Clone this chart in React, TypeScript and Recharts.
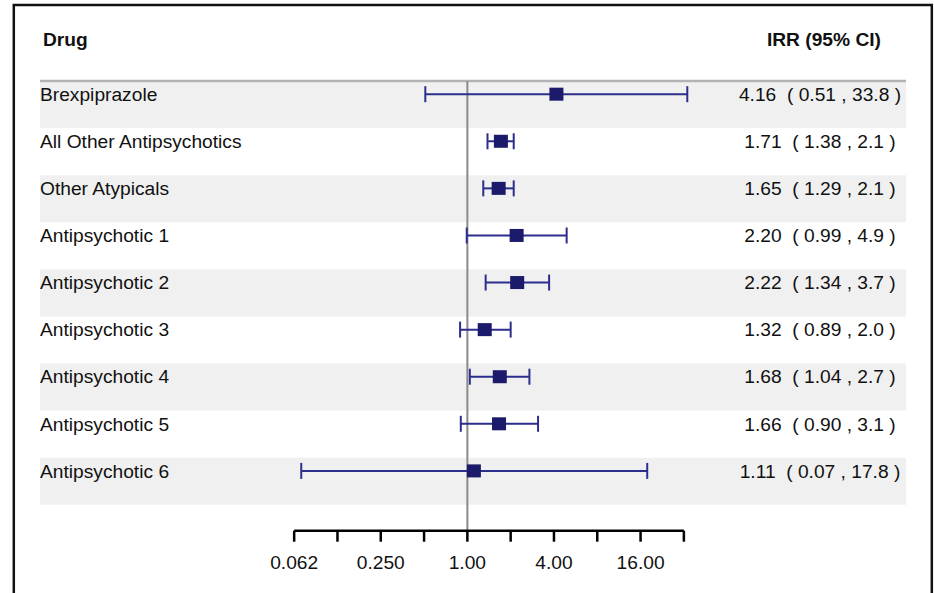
import React from 'react';
import {
  ComposedChart,
  Scatter,
  XAxis,
  YAxis,
  ErrorBar,
  ReferenceArea,
  ReferenceLine,
} from 'recharts';

// ---------- data ----------
const drugs = [
  'Brexpiprazole',
  'All Other Antipsychotics',
  'Other Atypicals',
  'Antipsychotic 1',
  'Antipsychotic 2',
  'Antipsychotic 3',
  'Antipsychotic 4',
  'Antipsychotic 5',
  'Antipsychotic 6',
];
const irr = [4.16, 1.71, 1.65, 2.2, 2.22, 1.32, 1.68, 1.66, 1.11];
const ciLower = [0.51, 1.38, 1.29, 0.99, 1.34, 0.89, 1.04, 0.9, 0.07];
const ciUpper = [33.8, 2.1, 2.1, 4.9, 3.7, 2.0, 2.7, 3.1, 17.8];
const xTicks = [0.0625, 0.125, 0.25, 0.5, 1, 2, 4, 8, 16, 32];
const xTickLabels = ['0.062', '', '0.250', '', '1.00', '', '4.00', '', '16.00', ''];
const headerLeft = 'Drug';
const headerRight = 'IRR (95% CI)';

// ---------- layout constants ----------
const W = 934;
const H = 593;
const FONT = '"Liberation Sans", Arial, sans-serif';
const FS = 19.2;
const XMIN = Math.pow(2, -9.87);
const XMAX = Math.pow(2, 10.13);
const YMAX = 9.55;
const MARK_OFFSET = 0.28;
const LINE_COLOR = '#2c2e8c';
const BOX_COLOR = '#1b1a6b';
const CI_CENTER = 820;

const ciText = (i: number) =>
  `${irr[i].toFixed(2)}  ( ${ciLower[i].toFixed(2)} , ${ciUpper[i].toFixed(1)} )`;

const rows = drugs.map((d, i) => ({
  name: d,
  x: irr[i],
  y: i + MARK_OFFSET,
  err: [irr[i] - ciLower[i], ciUpper[i] - irr[i]],
}));
const rowTicks = drugs.map((_, i) => i + MARK_OFFSET);

const LeftTick = (props: any) => {
  const { x, y, index } = props;
  return (
    <text x={x} y={y} dy="0.35em" textAnchor="start" fontFamily={FONT} fontSize={FS} fill="#111">
      {drugs[index]}
    </text>
  );
};

const RightTick = (props: any) => {
  const { y, index } = props;
  return (
    <text
      x={CI_CENTER}
      y={y}
      dy="0.35em"
      textAnchor="middle"
      fontFamily={FONT}
      fontSize={FS}
      fill="#111"
      style={{ whiteSpace: 'pre' }}
    >
      {ciText(index)}
    </text>
  );
};

const XTick = (props: any) => {
  const { x, y, index } = props;
  const label = xTickLabels[index];
  return (
    <g>
      <line x1={x} x2={x} y1={y} y2={y + 11} stroke="#000" strokeWidth={2.5} />
      {label ? (
        <text x={x} y={y + 38.5} textAnchor="middle" fontFamily={FONT} fontSize={FS} fill="#111">
          {label}
        </text>
      ) : null}
    </g>
  );
};

const Box = (props: any) => {
  const { cx, cy } = props;
  return <rect x={cx - 7} y={cy - 6.5} width={14} height={13} fill={BOX_COLOR} />;
};

export default function App() {
  return (
    <div style={{ position: 'absolute', left: 0, top: 0, width: W, height: H, overflow: 'hidden', background: '#fff' }}>
      <svg width={W} height={H} style={{ position: 'absolute', left: 0, top: 0 }}>
        <rect x={13.8} y={5} width={918} height={640} fill="none" stroke="#111" strokeWidth={2.5} />
        <text x={43} y={45.5} fontFamily={FONT} fontSize={FS} fontWeight="bold" fill="#111">
          {headerLeft}
        </text>
        <text x={881} y={46} textAnchor="end" fontFamily={FONT} fontSize={FS} fontWeight="bold" fill="#111">
          {headerRight}
        </text>
      </svg>
      <div style={{ position: 'absolute', left: 0, top: 0 }}>
        <ComposedChart
          width={W}
          height={H}
          data={rows}
          margin={{ top: 81, right: 0, bottom: 0, left: 0 }}
        >
          <XAxis
            type="number"
            dataKey="x"
            scale="log"
            domain={[XMIN, XMAX]}
            allowDataOverflow
            ticks={xTicks}
            interval={0}
            axisLine={false}
            tickLine={false}
            tickSize={0}
            tickMargin={0}
            height={62.3}
            tick={<XTick />}
          />
          <YAxis
            yAxisId="L"
            type="number"
            dataKey="y"
            domain={[0, YMAX]}
            reversed
            allowDataOverflow
            ticks={rowTicks}
            interval={0}
            width={40}
            axisLine={false}
            tickLine={false}
            tickSize={0}
            tickMargin={0}
            tick={<LeftTick />}
          />
          <YAxis
            yAxisId="R"
            orientation="right"
            type="number"
            dataKey="y"
            domain={[0, YMAX]}
            reversed
            allowDataOverflow
            ticks={rowTicks}
            interval={0}
            width={28}
            axisLine={false}
            tickLine={false}
            tickSize={0}
            tickMargin={0}
            tick={<RightTick />}
          />
          {drugs.map((_, i) =>
            i % 2 === 0 ? (
              <ReferenceArea
                key={`band-${i}`}
                yAxisId="L"
                y1={i}
                y2={i + 1}
                fill="#f0f0f0"
                fillOpacity={1}
                stroke="none"
                ifOverflow="visible"
              />
            ) : null
          )}
          <ReferenceLine yAxisId="L" y={0} stroke="#b3b3b3" strokeWidth={2.5} ifOverflow="visible" />
          <ReferenceLine yAxisId="L" x={1} stroke="#8a8a8a" strokeWidth={2} ifOverflow="visible" />
          <ReferenceLine
            yAxisId="L"
            segment={[
              { x: xTicks[0], y: YMAX },
              { x: xTicks[xTicks.length - 1], y: YMAX },
            ]}
            stroke="#000"
            strokeWidth={2.5}
            ifOverflow="visible"
          />
          <Scatter yAxisId="L" dataKey="y" shape={<Box />} isAnimationActive={false}>
            <ErrorBar dataKey="err" direction="x" width={8} stroke={LINE_COLOR} strokeWidth={2} />
          </Scatter>
        </ComposedChart>
      </div>
    </div>
  );
}
